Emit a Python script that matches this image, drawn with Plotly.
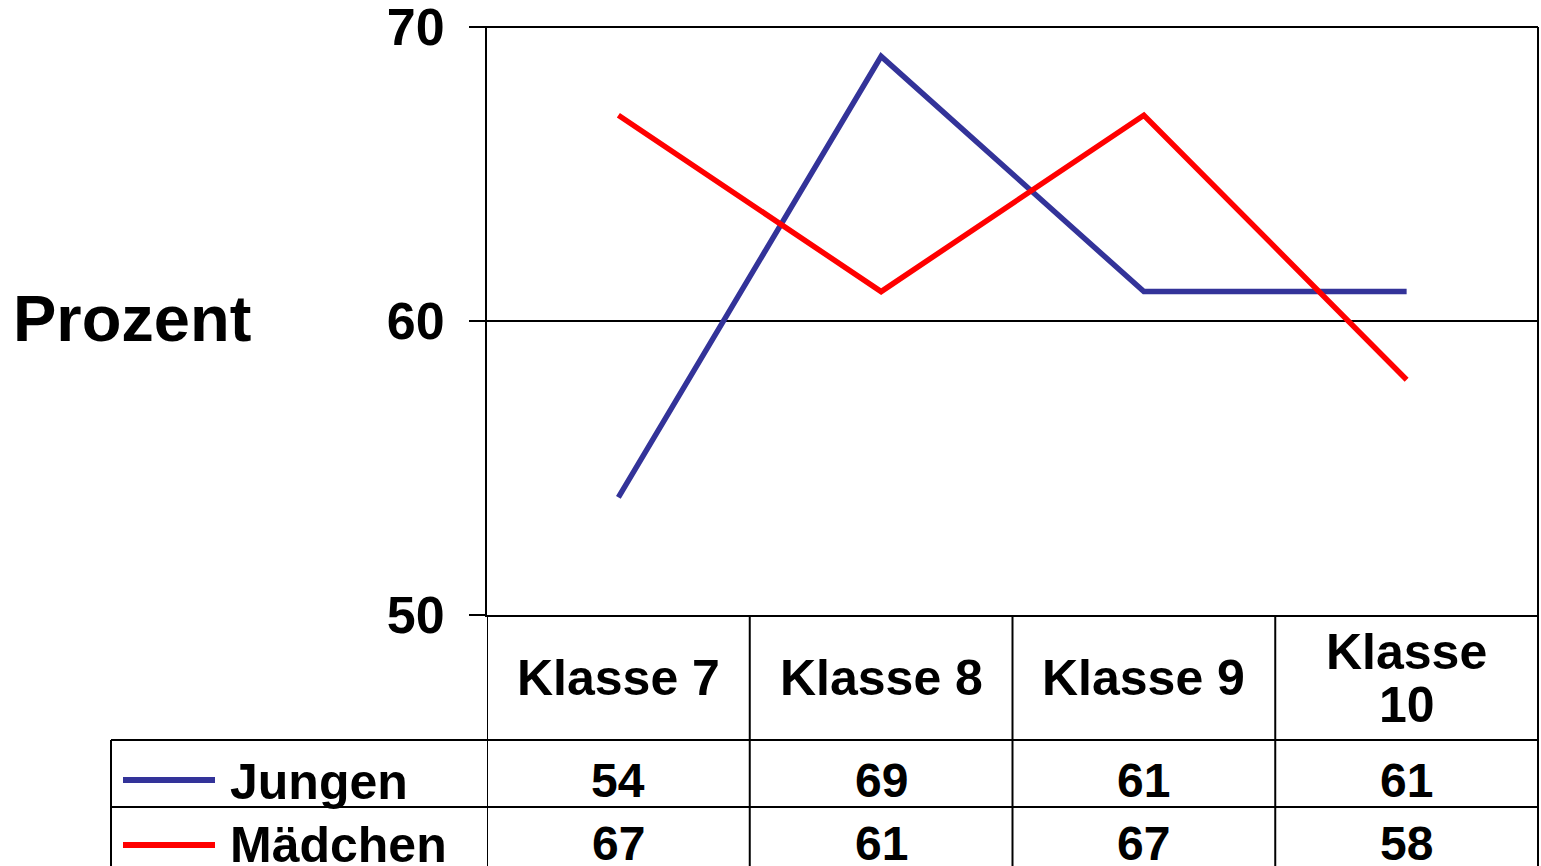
import plotly.graph_objects as go

categories = ["Klasse 7", "Klasse 8", "Klasse 9", "Klasse 10"]
header_labels = ["Klasse 7", "Klasse 8", "Klasse 9", "Klasse<br>10"]
jungen = [54, 69, 61, 61]
maedchen = [67, 61, 67, 58]
series_names = ["Jungen", "Mädchen"]
series_colors = ["#333399", "#FF0000"]
y_ticks = [50, 60, 70]
y_title = "Prozent"

# body margin is removed by a post script so the figure fills the window
OFF = 0
W, H = 1541, 866
FONT = "Liberation Sans, Arial, sans-serif"


def py(p):
    return 1 - (p - OFF) / H


def pxp(p):
    return (p - OFF) / W


X0, X1 = 487, 1538
Y_TOP, Y_BOT = 27, 615
HDR_BOT = 740
ROW1_BOT = 807
TBL_LEFT = 111

fig = go.Figure()
for name, vals, col in zip(series_names, [jungen, maedchen], series_colors):
    fig.add_trace(go.Scatter(
        x=list(range(len(categories))), y=vals, mode="lines", name=name,
        line=dict(color=col, width=5.5), showlegend=False, hoverinfo="skip"))

shapes = []
line_style = dict(color="black", width=2)
# right border of plot + table
shapes.append(dict(type="line", xref="paper", yref="paper", x0=pxp(X1), x1=pxp(X1),
                   y0=py(Y_TOP), y1=0, line=line_style))
# top border (70)
shapes.append(dict(type="line", xref="paper", yref="paper", x0=pxp(X0 - 16), x1=pxp(X1),
                   y0=py(Y_TOP), y1=py(Y_TOP), line=line_style))
# vertical table lines at category boundaries
for i in range(len(categories)):
    shapes.append(dict(type="line", xref="x", yref="paper", x0=i - 0.5, x1=i - 0.5,
                       y0=py(Y_BOT), y1=0, line=line_style))
# horizontal table lines
for yy in [HDR_BOT, ROW1_BOT]:
    shapes.append(dict(type="line", xref="paper", yref="paper", x0=pxp(TBL_LEFT), x1=pxp(X1),
                       y0=py(yy), y1=py(yy), line=line_style))
# left border of legend column
shapes.append(dict(type="line", xref="paper", yref="paper", x0=pxp(TBL_LEFT), x1=pxp(TBL_LEFT),
                   y0=py(HDR_BOT), y1=0, line=line_style))

annotations = []
row_centers = [780, 843]
TXT = dict(family=FONT, size=48, color="black", weight="bold")
HDR_FONT = dict(family=FONT, size=50, color="black", weight="bold")
# legend keys and names
for name, col, yc in zip(series_names, series_colors, [780, 845]):
    shapes.append(dict(type="line", xref="paper", yref="paper", x0=pxp(123), x1=pxp(215),
                       y0=py(yc), y1=py(yc), line=dict(color=col, width=6)))
for name, yc in zip(series_names, row_centers):
    annotations.append(dict(text=name, xref="paper", yref="paper", x=pxp(228), y=py(yc + 2),
                            xanchor="left", yanchor="middle", showarrow=False,
                            font=dict(family=FONT, size=50, color="black", weight="bold")))
# header (multi-line labels get a tighter line spacing)
HDR_CENTER, LINE_GAP = 678, 53
for i, lab in enumerate(header_labels):
    parts = lab.split("<br>")
    n = len(parts)
    for k, part in enumerate(parts):
        yc = HDR_CENTER + (k - (n - 1) / 2) * LINE_GAP
        annotations.append(dict(text=part, xref="x", yref="paper", x=i, y=py(yc),
                                xanchor="center", yanchor="middle", showarrow=False,
                                font=HDR_FONT))
# values
for vals, yc in zip([jungen, maedchen], row_centers):
    for i, v in enumerate(vals):
        annotations.append(dict(text=str(v), xref="x", yref="paper", x=i, y=py(yc),
                                xanchor="center", yanchor="middle", showarrow=False, font=TXT))
# y title
annotations.append(dict(text=y_title, xref="paper", yref="paper", x=pxp(11), y=py(318),
                        xanchor="left", yanchor="middle", showarrow=False,
                        font=dict(family=FONT, size=65, color="black", weight="bold")))

fig.update_layout(
    width=W, height=H, autosize=False,
    margin=dict(l=0, r=0, t=0, b=0, pad=0),
    paper_bgcolor="white", plot_bgcolor="white",
    shapes=shapes, annotations=annotations,
    xaxis=dict(domain=[pxp(X0), pxp(X1)], range=[-0.5, 3.5], showticklabels=False,
               showgrid=False, zeroline=False, showline=True, linecolor="black",
               linewidth=2, ticks="", automargin=False, fixedrange=True),
    yaxis=dict(domain=[py(Y_BOT), py(Y_TOP)], range=[50, 70], tickvals=y_ticks,
               ticks="outside", ticklen=16, tickwidth=2, tickcolor="black",
               showline=True, linecolor="black", linewidth=2,
               showgrid=True, gridcolor="black", gridwidth=2, zeroline=False,
               ticklabelstandoff=14, automargin=False, fixedrange=True,
               ticklabeloverflow="allow",
               tickfont=dict(family=FONT, size=52, color="black", weight="bold")),
)

fig.write_html(
    "out.html",
    config={"displayModeBar": False},
    post_script="document.body.style.margin='0';document.body.style.overflow='hidden';",
)
